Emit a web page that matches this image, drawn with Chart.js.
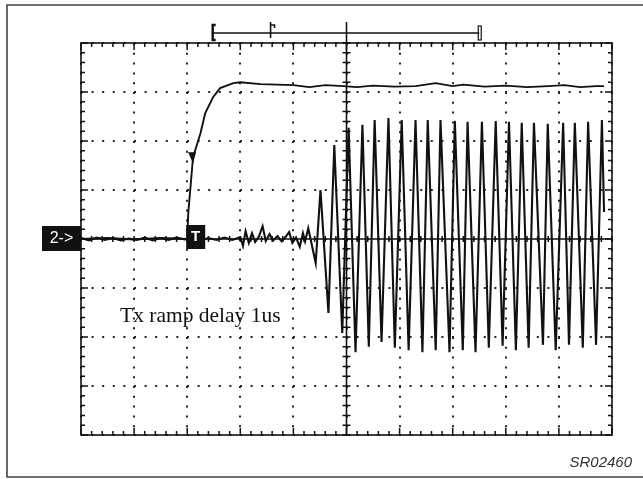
<!DOCTYPE html>
<html>
<head>
<meta charset="utf-8">
<script src="https://cdn.jsdelivr.net/npm/chart.js@4.4.1/dist/chart.umd.min.js"></script>
<style>
    html, body { margin: 0; padding: 0; background: #fff; }
    #wrap { position: relative; width: 643px; height: 479px; }
</style>
</head>
<body>
<div id="wrap"><canvas id="scope" width="643" height="479"></canvas></div>
<script>
// Screen is 10 x 8 divisions, values are in divisions
const divisionsX = [0, 1, 2, 3, 4, 5, 6, 7, 8, 9, 10];
const divisionsY = [-4, -3, -2, -1, 0, 1, 2, 3, 4];

// Channel 1: ramp
const rampTime = [0, 0.5, 1.0, 1.5, 2.0, 2.02, 2.11, 2.25, 2.34, 2.49, 2.62, 2.87, 3.0, 3.38, 4.0, 4.3, 4.6, 4.94, 5.2, 5.5, 5.9, 6.3, 6.68, 7.0, 7.2, 7.6, 8.0, 8.4, 8.8, 9.1, 9.4, 9.7, 9.85];
const rampLevel = [0, 0.02, -0.01, 0.02, 0, 0.53, 1.67, 2.16, 2.57, 2.90, 3.08, 3.18, 3.20, 3.16, 3.14, 3.10, 3.14, 3.12, 3.10, 3.13, 3.11, 3.12, 3.18, 3.12, 3.15, 3.11, 3.13, 3.10, 3.12, 3.14, 3.10, 3.12, 3.12];

// Channel 2: Tx output
const txTime = [
    0, 0.15, 0.3, 0.45, 0.6, 0.75, 0.9, 1.05, 1.2, 1.35, 1.5, 1.65, 1.8, 1.95,
    2.1, 2.25, 2.4, 2.55, 2.7, 2.85,
    3.0, 3.05, 3.1, 3.16, 3.22, 3.28, 3.35, 3.42, 3.48, 3.55, 3.62, 3.7, 3.78, 3.85, 3.92, 3.98, 4.05, 4.12, 4.18, 4.22,
    4.28, 4.42, 4.51, 4.66, 4.77, 4.92, 5.04, 5.17, 5.30, 5.42, 5.53, 5.66, 5.79, 5.91, 6.04, 6.17, 6.30, 6.43,
    6.53, 6.68, 6.77, 6.94, 7.04, 7.19, 7.28, 7.43, 7.55, 7.68, 7.81, 7.94, 8.06, 8.19, 8.30, 8.43, 8.53, 8.70,
    8.79, 8.94, 9.08, 9.19, 9.30, 9.45, 9.55, 9.70, 9.81, 9.85
];
const txLevel = [
    0.02, -0.03, 0.03, -0.02, 0.02, -0.03, 0.01, -0.02, 0.03, -0.03, 0.02, -0.02, 0.03, -0.01,
    0.02, -0.03, 0.02, -0.02, 0.03, -0.02,
    0.04, -0.14, 0.16, -0.08, 0.12, -0.06, 0.05, 0.26, -0.04, 0.10, -0.03, 0.06, -0.05, 0.04, 0.14, -0.08, 0.03, -0.16, 0.12, -0.05,
    0.22, -0.49, 1.00, -1.51, 1.92, -1.92, 2.27, -2.31, 2.33, -2.20, 2.43, -2.10, 2.47, -2.22, 2.43, -2.27, 2.43, -2.31,
    2.43, -2.27, 2.43, -2.31, 2.41, -2.27, 2.39, -2.31, 2.39, -2.22, 2.41, -2.18, 2.39, -2.27, 2.37, -2.22, 2.37, -2.16,
    2.35, -2.27, 2.37, -2.16, 2.37, -2.22, 2.39, -2.16, 2.43, 0.55
];

// Markers
const triggerTime = 2.0;
const cursorTime = 2.11;
const cursorLevel = 1.67;
const annotation = 'Tx ramp delay 1us';
const figureId = 'SR02460';

const toPoints = (xs, ys) => xs.map((x, i) => ({ x: x, y: ys[i] }));

// Draw the scope frame, centre cross, markers and labels
const scopeDecor = {
    id: 'scopeDecor',
    afterDatasetsDraw(chart) {
        const ctx = chart.ctx;
        const xs = chart.scales.x;
        const ys = chart.scales.y;
        const a = chart.chartArea;
        const cx = xs.getPixelForValue(5);
        const cy = ys.getPixelForValue(0);

        ctx.save();
        ctx.strokeStyle = '#111';
        ctx.lineWidth = 1.6;
        ctx.strokeRect(a.left, a.top, a.right - a.left, a.bottom - a.top);

        // centre lines
        ctx.beginPath();
        ctx.moveTo(cx, a.top); ctx.lineTo(cx, a.bottom);
        ctx.moveTo(a.left, cy); ctx.lineTo(a.right, cy);
        ctx.stroke();

        // minor ticks, 5 per division
        ctx.lineWidth = 1.5;
        ctx.beginPath();
        for (let k = 0; k <= 50; k++) {
            const v = k / 5;
            const px = xs.getPixelForValue(v);
            const len = k % 5 === 0 ? 7 : 4;
            ctx.moveTo(px, a.top); ctx.lineTo(px, a.top + len);
            ctx.moveTo(px, a.bottom); ctx.lineTo(px, a.bottom - len);
            ctx.moveTo(px, cy - 3); ctx.lineTo(px, cy + 3);
        }
        for (let k = -20; k <= 20; k++) {
            const v = k / 5;
            const py = ys.getPixelForValue(v);
            const len = k % 5 === 0 ? 7 : 4;
            ctx.moveTo(a.left, py); ctx.lineTo(a.left + len, py);
            ctx.moveTo(a.right, py); ctx.lineTo(a.right - len, py);
            ctx.moveTo(cx - 4, py); ctx.lineTo(cx + 4, py);
        }
        ctx.stroke();

        // channel label
        ctx.fillStyle = '#111';
        ctx.fillRect(42, cy - 13, a.left - 42, 25);
        ctx.fillStyle = '#fff';
        ctx.font = '16px "Liberation Sans", Arial, sans-serif';
        ctx.textAlign = 'center';
        ctx.textBaseline = 'middle';
        ctx.fillText('2->', (42 + a.left) / 2, cy);

        // trigger marker
        const tx = xs.getPixelForValue(triggerTime);
        ctx.fillStyle = '#111';
        ctx.fillRect(tx - 1, cy - 14, 19, 24);
        ctx.fillStyle = '#fff';
        ctx.font = 'bold 15px "Liberation Sans", Arial, sans-serif';
        ctx.fillText('T', tx + 8.5, cy - 2);

        // cursor mark on the ramp
        const mx = xs.getPixelForValue(cursorTime);
        const my = ys.getPixelForValue(cursorLevel);
        ctx.fillStyle = '#111';
        ctx.beginPath();
        ctx.moveTo(mx - 5, my - 5); ctx.lineTo(mx + 3, my - 5); ctx.lineTo(mx, my + 6);
        ctx.closePath();
        ctx.fill();

        // time bracket above the screen
        const bl = xs.getPixelForValue(2.48);
        const br = xs.getPixelForValue(7.5);
        const bt = xs.getPixelForValue(3.57);
        const by = 33;
        ctx.lineWidth = 1.6;
        ctx.beginPath();
        ctx.moveTo(bl, by); ctx.lineTo(br, by);
        ctx.moveTo(cx, 22); ctx.lineTo(cx, a.top);
        ctx.moveTo(bt, 22); ctx.lineTo(bt, 38);
        ctx.moveTo(bt, 25); ctx.lineTo(bt + 4, 25); ctx.lineTo(bt + 4, 28);
        ctx.stroke();
        ctx.lineWidth = 2.4;
        ctx.beginPath();
        ctx.moveTo(bl + 3, 25); ctx.lineTo(bl, 25); ctx.lineTo(bl, 40); ctx.lineTo(bl + 3, 40);
        ctx.stroke();
        ctx.lineWidth = 1.2;
        ctx.strokeRect(br - 1, 26, 3, 14);

        // annotation
        ctx.fillStyle = '#111';
        ctx.font = '21.5px "Liberation Serif", "Times New Roman", serif';
        ctx.textAlign = 'left';
        ctx.textBaseline = 'alphabetic';
        ctx.fillText(annotation, 120, 322);

        ctx.fillStyle = '#333';
        ctx.font = 'italic 15px "Liberation Sans", Arial, sans-serif';
        ctx.textAlign = 'right';
        ctx.fillText(figureId, 632, 467);

        // outer frame (open on the right)
        ctx.strokeStyle = '#444';
        ctx.lineWidth = 1.6;
        ctx.beginPath();
        ctx.moveTo(643, 5); ctx.lineTo(7, 5); ctx.lineTo(7, 477); ctx.lineTo(643, 477);
        ctx.stroke();
        ctx.restore();
    }
};

const scopeCtx = document.getElementById('scope').getContext('2d');
const scopeChart = new Chart(scopeCtx, {
    type: 'line',
    data: {
        datasets: [
            {
                label: 'Ramp',
                data: toPoints(rampTime, rampLevel),
                borderColor: '#111',
                borderWidth: 1.9,
                pointRadius: 0,
                tension: 0
            },
            {
                label: 'Tx',
                data: toPoints(txTime, txLevel),
                borderColor: '#111',
                borderWidth: 2.1,
                pointRadius: 0,
                tension: 0
            }
        ]
    },
    options: {
        responsive: false,
        animation: false,
        events: [],
        layout: {
            padding: { left: 81, right: 31, top: 43, bottom: 44 }
        },
        plugins: {
            legend: { display: false },
            tooltip: { enabled: false }
        },
        scales: {
            x: {
                type: 'linear',
                min: divisionsX[0],
                max: divisionsX[divisionsX.length - 1],
                ticks: { display: false, stepSize: 1 },
                grid: { color: '#222', lineWidth: 2, drawTicks: false },
                border: { display: false, dash: [2, 7.8] }
            },
            y: {
                type: 'linear',
                min: divisionsY[0],
                max: divisionsY[divisionsY.length - 1],
                ticks: { display: false, stepSize: 1 },
                grid: { color: '#222', lineWidth: 2, drawTicks: false },
                border: { display: false, dash: [2, 8.6] }
            }
        }
    },
    plugins: [scopeDecor]
});
</script>
</body>
</html>
